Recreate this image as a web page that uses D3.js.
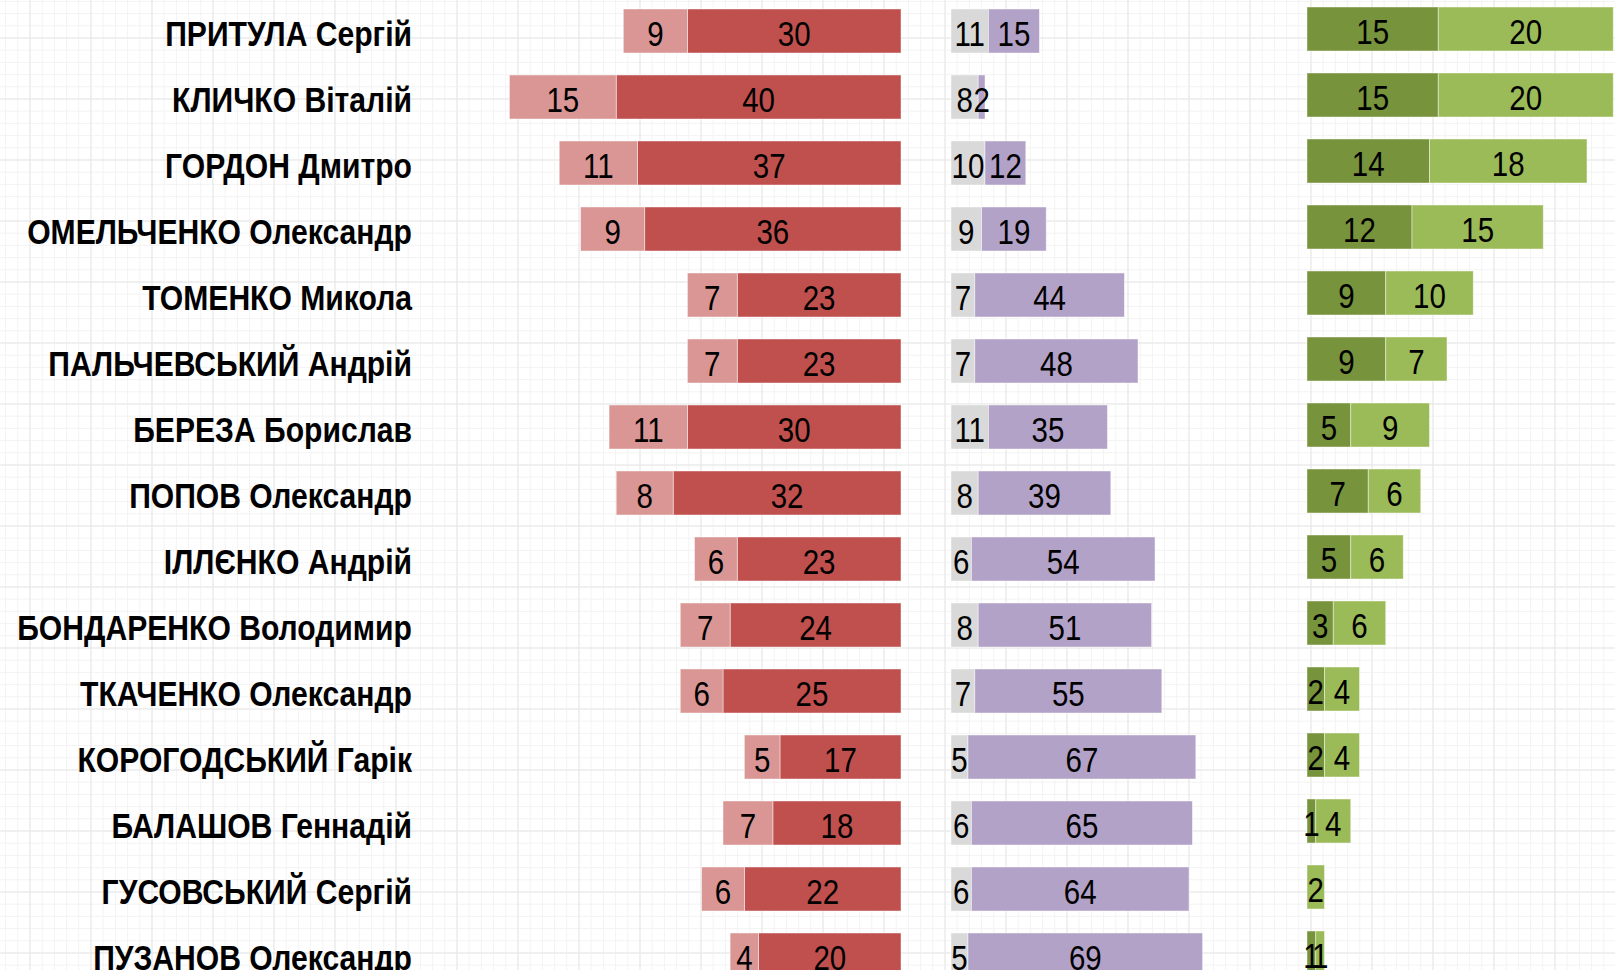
<!DOCTYPE html>
<html>
<head>
<meta charset="utf-8">
<script src="https://cdn.jsdelivr.net/npm/d3@7"></script>
<style>
  html, body { margin: 0; padding: 0; background: #ffffff; }
  svg { display: block; }
</style>
</head>
<body>
<svg id="chart" width="1615" height="970"></svg>
<script>
// ---- data ----
const names = [
  "ПРИТУЛА Сергій", "КЛИЧКО Віталій", "ГОРДОН Дмитро", "ОМЕЛЬЧЕНКО Олександр",
  "ТОМЕНКО Микола", "ПАЛЬЧЕВСЬКИЙ Андрій", "БЕРЕЗА Борислав", "ПОПОВ Олександр",
  "ІЛЛЄНКО Андрій", "БОНДАРЕНКО Володимир", "ТКАЧЕНКО Олександр", "КОРОГОДСЬКИЙ Гарік",
  "БАЛАШОВ Геннадій", "ГУСОВСЬКИЙ Сергій", "ПУЗАНОВ Олександр"
];
const redLight   = [9, 15, 11, 9, 7, 7, 11, 8, 6, 7, 6, 5, 7, 6, 4];
const redDark    = [30, 40, 37, 36, 23, 23, 30, 32, 23, 24, 25, 17, 18, 22, 20];
const grayVals   = [11, 8, 10, 9, 7, 7, 11, 8, 6, 8, 7, 5, 6, 6, 5];
const purpleVals = [15, 2, 12, 19, 44, 48, 35, 39, 54, 51, 55, 67, 65, 64, 69];
const greenDark  = [15, 15, 14, 12, 9, 9, 5, 7, 5, 3, 2, 2, 1, 0, 1];
const greenLight = [20, 20, 18, 15, 10, 7, 9, 6, 6, 6, 4, 4, 4, 2, 1];

const W = 1615, H = 970;
const svg = d3.select("#chart");

// ---- background grid (paper texture) ----
const bg = svg.append("g");
bg.append("rect").attr("width", W).attr("height", H).attr("fill", "#ffffff");
const minor = 12.2, major = 61;
for (let x = 30 - major; x < W; x += minor) {
  bg.append("line").attr("x1", x).attr("x2", x).attr("y1", 0).attr("y2", H)
    .attr("stroke", "#f3f3f3").attr("stroke-width", 1);
}
for (let yy = 38 - major; yy < H; yy += minor) {
  bg.append("line").attr("y1", yy).attr("y2", yy).attr("x1", 0).attr("x2", W)
    .attr("stroke", "#f3f3f3").attr("stroke-width", 1);
}
for (let x = 30; x < W; x += major) {
  bg.append("line").attr("x1", x).attr("x2", x).attr("y1", 0).attr("y2", H)
    .attr("stroke", "#e7e7e7").attr("stroke-width", 1);
}
for (let yy = 38; yy < H; yy += major) {
  bg.append("line").attr("y1", yy).attr("y2", yy).attr("x1", 0).attr("x2", W)
    .attr("stroke", "#e7e7e7").attr("stroke-width", 1);
}

// ---- scales ----
const y = d3.scaleBand().domain(names).range([-2, 988]).paddingInner(1/3).paddingOuter(1/6);
const bw = y.bandwidth();

const redRight = 901;
const xRed = d3.scaleLinear().domain([0, 100]).range([0, 712]);
const purpleLeft = 951;
const xPurple = d3.scaleLinear().domain([0, 100]).range([0, 340]);
const greenLeft = 1307;
const xGreen = d3.scaleLinear().domain([0, 100]).range([0, 875]);

const fontFam = "'Liberation Sans', Arial, sans-serif";
const numSize = 36;
const narrow = 0.82;   // emulate Arial Narrow

const rows = names.map((n, i) => ({
  name: n, rl: redLight[i], rd: redDark[i], g: grayVals[i], p: purpleVals[i],
  gd: greenDark[i], gl: greenLight[i]
}));

// segments
const segs = [];
rows.forEach(r => {
  const yc = y(r.name);
  const rdW = xRed(r.rd), rlW = xRed(r.rl);
  segs.push({x: redRight - rdW, w: rdW, y: yc, v: r.rd, fill: "#C0504D"});
  segs.push({x: redRight - rdW - rlW, w: rlW, y: yc, v: r.rl, fill: "#D99694"});
  const gW = xPurple(r.g), pW = xPurple(r.p);
  segs.push({x: purpleLeft, w: gW, y: yc, v: r.g, fill: "#D9D9D9"});
  segs.push({x: purpleLeft + gW, w: pW, y: yc, v: r.p, fill: "#B3A2C7"});
  const gdW = xGreen(r.gd), glW = xGreen(r.gl);
  segs.push({x: greenLeft, w: gdW, y: yc - 2, v: r.gd, fill: "#77933C"});
  segs.push({x: greenLeft + gdW, w: glW, y: yc - 2, v: r.gl, fill: "#9BBB59"});
});

const vis = segs.filter(d => d.v > 0);
const bars = svg.append("g");
bars.selectAll("rect").data(vis).join("rect")
  .attr("x", d => d.x).attr("y", d => d.y)
  .attr("width", d => d.w).attr("height", bw)
  .attr("fill", d => d.fill)
  .attr("stroke", "#ffffff").attr("stroke-opacity", 0.55).attr("stroke-width", 0.8);

bars.selectAll("text").data(vis).join("text")
  .attr("transform", d => `translate(${d.x + d.w / 2},${d.y + bw / 2 + 15}) scale(${narrow},1)`)
  .attr("text-anchor", "middle")
  .attr("font-family", fontFam)
  .attr("font-size", numSize)
  .attr("fill", "#000")
  .text(d => d.v);

// ---- category labels ----
const labelRight = 412;
const labels = svg.append("g");
const lab = labels.selectAll("text").data(rows).join("text")
  .attr("text-anchor", "end")
  .attr("font-family", fontFam)
  .attr("font-weight", "bold")
  .attr("font-size", 36)
  .attr("fill", "#000")
  .text(d => d.name);

// fit label widths to the reference (longest label ~395px)
let maxW = 0;
lab.each(function() { maxW = Math.max(maxW, this.getComputedTextLength()); });
const k = 395 / maxW;
lab.attr("transform", d => `translate(${labelRight},${y(d.name) + bw / 2 + 15}) scale(${k},1)`);
</script>
</body>
</html>
